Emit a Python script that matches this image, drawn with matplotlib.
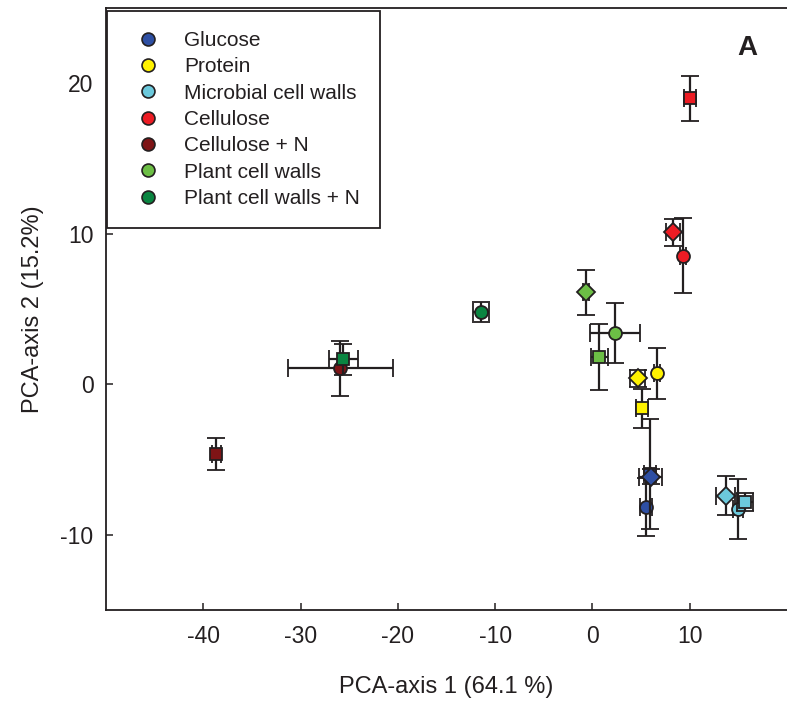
import numpy as np
import matplotlib
matplotlib.use("Agg")
import matplotlib.pyplot as plt
from matplotlib.lines import Line2D

plt.rcParams['font.family'] = ['Liberation Sans', 'DejaVu Sans']
plt.rcParams['axes.unicode_minus'] = False

groups = ["Glucose", "Protein", "Microbial cell walls", "Cellulose",
          "Cellulose + N", "Plant cell walls", "Plant cell walls + N"]
colors = ["#2E4FA3", "#FFF200", "#6CC9DC", "#ED1C24",
          "#7E1416", "#6CBE45", "#0A8541"]

# circles
circle_x    = [5.5, 6.65, 15.0, 9.3, -25.9, 2.3, -11.45]
circle_y    = [-8.15, 0.73, -8.3, 8.55, 1.05, 3.4, 4.8]
circle_xerr = [0.6, 0.3, 0.5, 0.3, 5.35, 2.55, 0.85]
circle_yerr = [1.9, 1.7, 2.0, 2.5, 1.8, 2.0, 0.68]

# squares
square_x    = [5.9, 5.1, 15.7, 10.0, -38.65, 0.7, -25.6]
square_y    = [-5.95, -1.6, -7.85, 19.0, -4.65, 1.8, 1.65]
square_xerr = [0.6, 0.6, 0.8, 0.6, 0.5, 0.85, 1.5]
square_yerr = [3.65, 1.3, 0.6, 1.5, 1.05, 2.2, 1.03]

# diamonds (not measured for the +N treatments)
diamond_x    = [6.0, 4.65, 13.7, 8.3, np.nan, -0.7, np.nan]
diamond_y    = [-6.15, 0.4, -7.4, 10.1, np.nan, 6.1, np.nan]
diamond_xerr = [1.2, 0.8, 1.0, 0.75, np.nan, 0.3, np.nan]
diamond_yerr = [0.5, 0.55, 1.3, 0.9, np.nan, 1.5, np.nan]

xticks = [-40, -30, -20, -10, 0, 10]
yticks = [-10, 0, 10, 20]

ink = "#231F20"

fig = plt.figure(figsize=(7.87, 7.01), dpi=100)
ax = fig.add_axes([106/787, 91/701, 681/787, 602/701])

sets = [("o", circle_x, circle_y, circle_xerr, circle_yerr, 9.3),
        ("s", square_x, square_y, square_xerr, square_yerr, 9.3),
        ("D", diamond_x, diamond_y, diamond_xerr, diamond_yerr, 9.0)]
z = 2
for marker, xs, ys, xe, ye, ms in sets:
    for i in range(len(groups)):
        if np.isnan(xs[i]):
            continue
        ax.errorbar(xs[i], ys[i], xerr=xe[i], yerr=ye[i], fmt=marker,
                    ms=ms, mfc=colors[i], mec=ink, mew=1.3,
                    ecolor=ink, elinewidth=1.6, capsize=6.5, capthick=1.6,
                    zorder=z)
        z += 1

ax.set_xlim(-50, 20)
ax.set_ylim(-15, 25)
ax.set_xticks(xticks)
ax.set_yticks(yticks)
ax.tick_params(direction='in', length=5, width=1.1, colors=ink,
               labelsize=16.5)
ax.tick_params(axis='x', pad=11)
ax.tick_params(axis='y', pad=9)
for s in ['left', 'bottom', 'top']:
    ax.spines[s].set_linewidth(1.3)
    ax.spines[s].set_color(ink)
ax.spines['right'].set_visible(False)

ax.set_xlabel("PCA-axis 1 (64.1 %)", fontsize=17, color=ink, labelpad=20)
ax.set_ylabel("PCA-axis 2 (15.2%)", fontsize=17, color=ink, labelpad=12)

handles = [Line2D([], [], marker='o', ls='none', ms=9.3, mfc=c, mec=ink,
                  mew=1.2) for c in colors]
leg = ax.legend(handles, groups, loc='upper left',
                bbox_to_anchor=(107/787, 1 - 11/701),
                bbox_transform=fig.transFigure, borderaxespad=0,
                fontsize=15, frameon=True, fancybox=False, framealpha=1,
                edgecolor=ink, borderpad=0.97, handlelength=2.0,
                handletextpad=0.72, labelspacing=0.35)
leg.get_frame().set_linewidth(1.3)
for t in leg.get_texts():
    t.set_color(ink)
leg.set_zorder(50)

fig.text(747/787, 1 - 48/701, "A", fontsize=20, fontweight='bold',
         color=ink, ha='center', va='center')

fig.savefig("out.png", dpi=100)
